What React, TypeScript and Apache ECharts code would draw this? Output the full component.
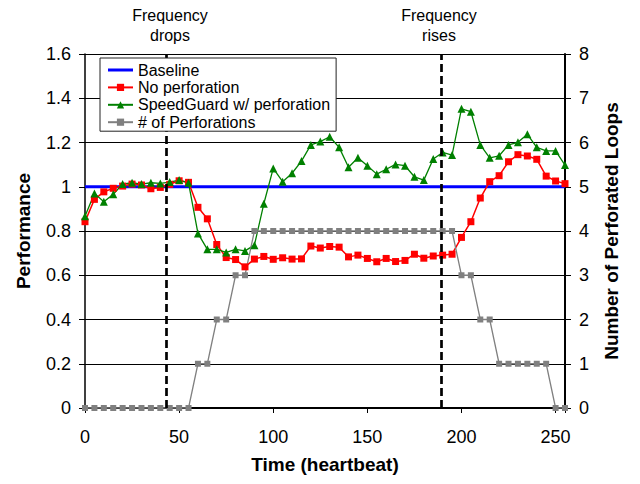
import React, { useEffect, useRef } from "react";
import * as echarts from "echarts";

const time = [0, 5, 10, 15, 20, 25, 30, 35, 40, 45, 50, 55, 60, 65, 70, 75, 80, 85, 90, 95, 100, 105, 110, 115, 120, 125, 130, 135, 140, 145, 150, 155, 160, 165, 170, 175, 180, 185, 190, 195, 200, 205, 210, 215, 220, 225, 230, 235, 240, 245, 250, 255];

const baselineTime = [0, 255];
const baselineValues = [1, 1];

const noPerforation = [0.842, 0.943, 0.977, 0.993, 1.003, 1.012, 1.008, 0.991, 0.997, 1.011, 1.027, 1.02, 0.907, 0.855, 0.739, 0.68, 0.671, 0.638, 0.673, 0.685, 0.672, 0.679, 0.673, 0.674, 0.732, 0.723, 0.73, 0.727, 0.683, 0.691, 0.676, 0.661, 0.676, 0.662, 0.667, 0.695, 0.677, 0.687, 0.691, 0.695, 0.771, 0.842, 0.949, 1.023, 1.05, 1.113, 1.145, 1.139, 1.124, 1.048, 1.026, 1.014];

const speedGuard = [0.867, 0.97, 0.932, 0.966, 1.012, 1.018, 1.012, 1.018, 1.015, 1.021, 1.03, 1.018, 0.789, 0.717, 0.717, 0.703, 0.717, 0.71, 0.736, 0.923, 1.083, 1.023, 1.061, 1.116, 1.189, 1.204, 1.226, 1.178, 1.088, 1.131, 1.095, 1.057, 1.079, 1.101, 1.095, 1.045, 1.03, 1.125, 1.155, 1.143, 1.352, 1.339, 1.189, 1.131, 1.14, 1.189, 1.201, 1.237, 1.178, 1.162, 1.162, 1.098];

const perforations = [0, 0, 0, 0, 0, 0, 0, 0, 0, 0, 0, 0, 1, 1, 2, 2, 3, 3, 4, 4, 4, 4, 4, 4, 4, 4, 4, 4, 4, 4, 4, 4, 4, 4, 4, 4, 4, 4, 4, 4, 3, 3, 2, 2, 1, 1, 1, 1, 1, 1, 0, 0];

const eventTimes = [43.3, 189.3];
const eventLabels = ["Frequency\ndrops", "Frequency\nrises"];
const eventLabelX = [170, 439];

const seriesNames = ["Baseline", "No perforation", "SpeedGuard w/ perforation", "# of Perforations"];

const FONT = "'Liberation Sans', Arial, sans-serif";

const pair = (xs: number[], ys: number[]) => xs.map((x, i) => [x, ys[i]]);

export default function App() {
  const ref = useRef<HTMLDivElement>(null);
  useEffect(() => {
    document.body.style.margin = "0";
    if (!ref.current) return;
    const chart = echarts.init(ref.current, undefined, { renderer: "svg" });
    chart.setOption({
      animation: false,
      textStyle: { fontFamily: FONT },
      grid: { left: 85, right: 75, top: 54, bottom: 76 },
      legend: {
        orient: "vertical",
        left: 100,
        top: 58,
        z: 20,
        data: [
          { name: seriesNames[0], icon: "path://M0,0 L25,0 L25,3 L0,3 Z" },
          seriesNames[1],
          seriesNames[2],
          seriesNames[3],
        ],
        selectedMode: false,
        backgroundColor: "#fff",
        borderColor: "#222",
        borderWidth: 1,
        padding: [4, 6, 1, 7],
        itemGap: 1.4,
        itemWidth: 25,
        itemHeight: 9,
        textStyle: { fontSize: 16, color: "#000", fontFamily: FONT, lineHeight: 16 },
      },
      graphic: eventLabels.map((t, i) => ({
        type: "text",
        x: eventLabelX[i],
        y: 25,
        style: {
          text: t,
          fontSize: 16,
          lineHeight: 20,
          fontFamily: FONT,
          fill: "#000",
          align: "center",
          verticalAlign: "middle",
        },
      })),
      xAxis: {
        type: "value",
        min: 0,
        max: 255,
        interval: 50,
        name: "Time (heartbeat)",
        nameLocation: "middle",
        nameGap: 47,
        nameTextStyle: { fontSize: 19, fontWeight: "bold", color: "#000", fontFamily: FONT },
        axisLine: { show: true, lineStyle: { color: "#000", width: 2 } },
        axisTick: { show: true, length: 5, lineStyle: { color: "#000", width: 1 } },
        axisLabel: {
          fontSize: 18,
          color: "#000",
          margin: 20,
          fontFamily: FONT,
          formatter: (v: number) => (v % 50 === 0 ? String(v) : ""),
        },
        splitLine: { show: false },
      },
      yAxis: [
        {
          type: "value",
          min: 0,
          max: 1.6,
          interval: 0.2,
          name: "Performance",
          nameLocation: "middle",
          nameRotate: 90,
          nameGap: 52,
          nameTextStyle: { fontSize: 19, fontWeight: "bold", color: "#000", fontFamily: FONT },
          axisLine: { show: true, lineStyle: { color: "#000", width: 1.5 } },
          axisTick: { show: true, length: 6, lineStyle: { color: "#000", width: 1 } },
          axisLabel: { fontSize: 18, color: "#000", margin: 14, fontFamily: FONT },
          splitLine: { show: true, lineStyle: { color: "#000", width: 1 } },
        },
        {
          type: "value",
          min: 0,
          max: 8,
          interval: 1,
          position: "right",
          name: "Number of Perforated Loops",
          nameLocation: "middle",
          nameRotate: 90,
          nameGap: 37,
          nameTextStyle: { fontSize: 19, fontWeight: "bold", color: "#000", fontFamily: FONT },
          axisLine: { show: true, lineStyle: { color: "#000", width: 2 } },
          axisTick: { show: true, length: 6, lineStyle: { color: "#000", width: 1 } },
          axisLabel: { fontSize: 18, color: "#000", margin: 14, fontFamily: FONT },
          splitLine: { show: false },
        },
      ],
      series: [
        {
          name: seriesNames[0],
          type: "line",
          yAxisIndex: 0,
          data: pair(baselineTime, baselineValues),
          symbol: "none",
          lineStyle: { color: "#0000ff", width: 3 },
          itemStyle: { color: "#0000ff" },
        },
        {
          name: seriesNames[1],
          type: "line",
          yAxisIndex: 0,
          data: pair(time, noPerforation),
          symbol: "rect",
          symbolSize: 7,
          lineStyle: { color: "#ff0000", width: 1.5 },
          itemStyle: { color: "#ff0000" },
        },
        {
          name: seriesNames[2],
          type: "line",
          yAxisIndex: 0,
          data: pair(time, speedGuard),
          symbol: "triangle",
          symbolSize: 8,
          lineStyle: { color: "#008000", width: 1.3 },
          itemStyle: { color: "#008000" },
        },
        {
          name: seriesNames[3],
          type: "line",
          yAxisIndex: 1,
          data: pair(time, perforations),
          symbol: "rect",
          symbolSize: 6,
          lineStyle: { color: "#808080", width: 1.3 },
          itemStyle: { color: "#808080" },
          markLine: {
            silent: true,
            symbol: ["none", "none"],
            label: { show: false },
            lineStyle: { color: "#000", type: [8, 4], width: 2.7 },
            data: eventTimes.map((t) => ({ xAxis: t })),
          },
        },
      ],
    });
    return () => chart.dispose();
  }, []);
  return <div ref={ref} style={{ width: 640, height: 484 }} />;
}
